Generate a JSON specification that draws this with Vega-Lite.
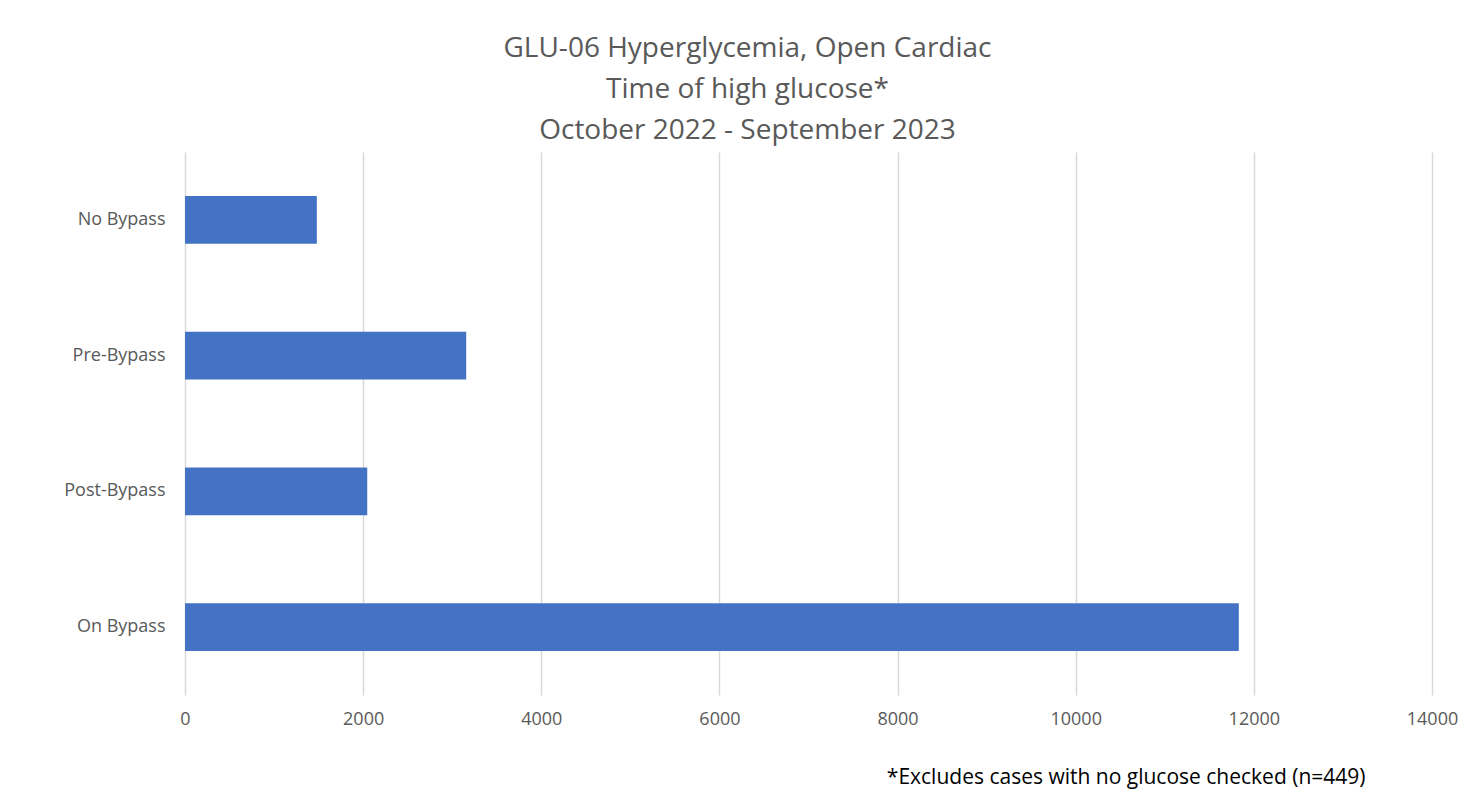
{
  "$schema": "https://vega.github.io/schema/vega-lite/v6.json",
  "autosize": {"type": "none"},
  "width": 1247,
  "height": 543,
  "padding": {"left": 185, "top": 152, "right": 40, "bottom": 106},
  "background": "white",
  "title": {
    "text": ["GLU-06 Hyperglycemia, Open Cardiac", "Time of high glucose*", "October 2022 - September 2023"],
    "font": "Open Sans",
    "fontSize": 28,
    "fontWeight": "normal",
    "color": "#595959",
    "lineHeight": 41,
    "anchor": "middle",
    "dx": -61,
    "offset": 7
  },
  "data": {
    "values": [
      {"phase": "No Bypass", "minutes": 1480},
      {"phase": "Pre-Bypass", "minutes": 3157},
      {"phase": "Post-Bypass", "minutes": 2046},
      {"phase": "On Bypass", "minutes": 11831}
    ]
  },
  "mark": {"type": "bar", "color": "#4472C4"},
  "encoding": {
    "y": {
      "field": "phase",
      "type": "nominal",
      "sort": null,
      "scale": {"paddingInner": 0.65, "paddingOuter": 0.325},
      "axis": {
        "title": null,
        "domain": false,
        "ticks": false,
        "labelPadding": 20,
        "labelFont": "Open Sans",
        "labelFontSize": 18,
        "labelColor": "#595959"
      }
    },
    "x": {
      "field": "minutes",
      "type": "quantitative",
      "scale": {"domain": [0, 14000], "nice": false},
      "axis": {
        "values": [0, 2000, 4000, 6000, 8000, 10000, 12000, 14000],
        "format": "d",
        "grid": true,
        "gridColor": "#d9d9d9",
        "gridWidth": 1.5,
        "domain": false,
        "ticks": false,
        "labelPadding": 15,
        "labelFont": "Open Sans",
        "labelFontSize": 18,
        "labelColor": "#595959",
        "labelFlush": false,
        "title": "*Excludes cases with no glucose checked (n=449)",
        "titleFont": "Open Sans",
        "titleFontSize": 21,
        "titleFontWeight": "normal",
        "titleColor": "#000000",
        "titleAlign": "right",
        "titleAnchor": "end",
        "titleBaseline": "alphabetic",
        "titleX": 1180,
        "titleY": 88
      }
    }
  },
  "config": {"view": {"stroke": null}}
}
